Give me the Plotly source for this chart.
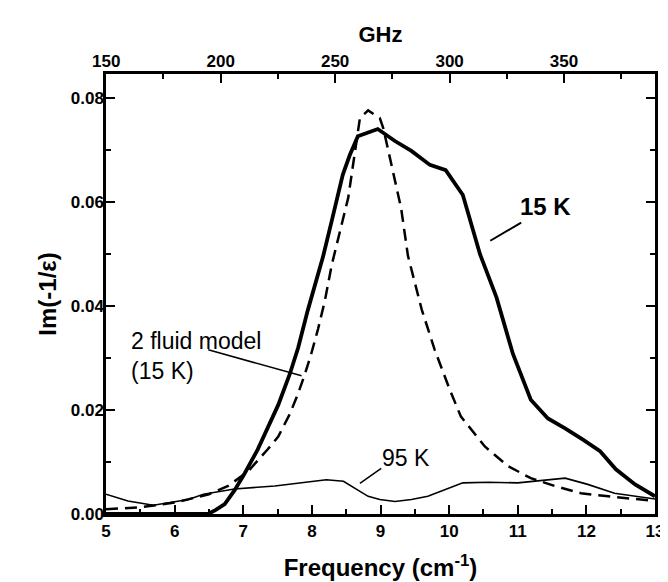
import plotly.graph_objects as go

# 15 K measured curve (thick)
f15 = [5.0, 5.5, 6.0, 6.49, 6.6, 6.73, 6.87, 7.02, 7.21, 7.36, 7.51, 7.68, 7.8, 7.94, 8.06, 8.16, 8.3, 8.45, 8.55, 8.67, 8.96, 9.06, 9.21, 9.45, 9.72, 9.95, 10.2, 10.45, 10.69, 10.93, 11.19, 11.44, 11.69, 11.95, 12.2, 12.43, 12.71, 13.0]
v15 = [0.0, 0.0, 0.0, 0.0, 0.0008, 0.0019, 0.0045, 0.0078, 0.0124, 0.0165, 0.0210, 0.0270, 0.0320, 0.0392, 0.0450, 0.0494, 0.0570, 0.0653, 0.0690, 0.0727, 0.0741, 0.0731, 0.0718, 0.0699, 0.0672, 0.0662, 0.0614, 0.0500, 0.0417, 0.0308, 0.0220, 0.0184, 0.0165, 0.0143, 0.0121, 0.0086, 0.0057, 0.0034]

# 2 fluid model (dashed)
fmod = [5.0, 5.5, 6.0, 6.5, 6.78, 7.07, 7.36, 7.51, 7.68, 7.8, 7.9, 7.99, 8.09, 8.19, 8.29, 8.4, 8.53, 8.62, 8.7, 8.82, 8.99, 9.04, 9.16, 9.3, 9.4, 9.6, 9.79, 10.01, 10.17, 10.52, 10.86, 11.19, 11.54, 11.92, 12.32, 12.71, 13.0]
vmod = [0.0009, 0.0013, 0.0022, 0.0038, 0.0054, 0.0082, 0.0125, 0.0149, 0.0193, 0.0232, 0.0270, 0.0308, 0.0356, 0.0411, 0.0480, 0.0540, 0.0609, 0.0690, 0.0762, 0.0777, 0.0762, 0.0743, 0.0672, 0.0589, 0.0497, 0.0394, 0.0316, 0.0239, 0.0188, 0.0130, 0.0092, 0.0069, 0.0054, 0.0040, 0.0034, 0.0029, 0.0025]

# 95 K measured curve (thin)
f95 = [5.0, 5.32, 5.69, 6.0, 6.2, 6.42, 6.87, 7.46, 7.84, 8.21, 8.46, 8.82, 8.99, 9.21, 9.45, 9.69, 10.2, 10.57, 11.0, 11.34, 11.69, 12.02, 12.41, 13.0]
v95 = [0.0038, 0.0025, 0.0017, 0.0023, 0.0028, 0.0038, 0.0048, 0.0054, 0.0060, 0.0066, 0.0063, 0.0034, 0.0028, 0.0024, 0.0028, 0.0034, 0.0060, 0.0061, 0.0060, 0.0065, 0.0069, 0.0057, 0.0040, 0.0029]

xticks = [5, 6, 7, 8, 9, 10, 11, 12, 13]
yticks = [0.0, 0.02, 0.04, 0.06, 0.08]
ghz_ticks = [150, 200, 250, 300, 350]
CM_TO_GHZ = 29.979

FONT = "Liberation Sans, Arial, sans-serif"

fig = go.Figure()
fig.add_trace(go.Scatter(x=f95, y=v95, mode="lines", line=dict(color="black", width=1.6), showlegend=False))
fig.add_trace(go.Scatter(x=fmod, y=vmod, mode="lines", line=dict(color="black", width=2.5, dash="12px,7px"), showlegend=False))
fig.add_trace(go.Scatter(x=f15, y=v15, mode="lines", line=dict(color="black", width=3.8), showlegend=False))
# invisible trace for top GHz axis
fig.add_trace(go.Scatter(x=[5 * CM_TO_GHZ, 13 * CM_TO_GHZ], y=[0, 0], xaxis="x2", mode="lines",
                         line=dict(width=0), hoverinfo="skip", showlegend=False))

tickfont = dict(family=FONT, size=17, color="black", weight="bold")

fig.update_layout(
    width=668, height=582,
    margin=dict(l=98, r=21, t=66, b=74),
    plot_bgcolor="white", paper_bgcolor="white",
    font=dict(family=FONT, color="black"),
    xaxis=dict(
        range=[5, 13], tickvals=xticks, ticktext=[str(t) for t in xticks],
        ticks="inside", ticklen=9, tickwidth=2, tickcolor="black",
        minor=dict(ticks="inside", ticklen=5, tickwidth=2, tickcolor="black", dtick=0.5, tick0=5),
        showline=True, linewidth=2.5, linecolor="black", mirror=False,
        showgrid=False, zeroline=False,
        tickfont=tickfont,
        title=dict(text="<b>Frequency (cm<sup>-1</sup>)</b>", font=dict(family=FONT, size=24), standoff=20),
    ),
    xaxis2=dict(
        overlaying="x", side="top", anchor="y",
        range=[5 * CM_TO_GHZ, 13 * CM_TO_GHZ], tickvals=ghz_ticks, ticktext=[str(t) for t in ghz_ticks],
        ticks="inside", ticklen=9, tickwidth=2, tickcolor="black",
        minor=dict(ticks="inside", ticklen=5, tickwidth=2, tickcolor="black", dtick=25, tick0=150),
        showline=True, linewidth=2.5, linecolor="black",
        showgrid=False, zeroline=False,
        tickfont=tickfont, ticklabelstandoff=-3,
        title=dict(text="<b>GHz</b>", font=dict(family=FONT, size=22), standoff=4),
    ),
    yaxis=dict(
        range=[0, 0.0847], tickvals=yticks, ticktext=["%.2f" % t for t in yticks],
        ticks="inside", ticklen=9, tickwidth=2, tickcolor="black",
        minor=dict(ticks="inside", ticklen=5, tickwidth=2, tickcolor="black", dtick=0.01, tick0=0),
        showline=True, linewidth=2.5, linecolor="black", mirror="ticks",
        showgrid=False, zeroline=False,
        tickfont=tickfont, ticklabelstandoff=-4,
        title=dict(text="<b>Im(-1/ε)</b>", font=dict(family=FONT, size=24), standoff=8),
    ),
)

# Labels with leader lines
fig.add_annotation(x=11.41, y=0.0592, xref="x", yref="y", text="<b>15 K</b>", showarrow=False,
                   font=dict(family=FONT, size=24, color="black"))
fig.add_shape(type="line", xref="x", yref="y", x0=11.05, y0=0.0561, x1=10.6, y1=0.0526,
              line=dict(color="black", width=2))

fig.add_annotation(x=9.37, y=0.0108, xref="x", yref="y", text="95 K", showarrow=False,
                   font=dict(family=FONT, size=23, color="black"))
fig.add_shape(type="line", xref="x", yref="y", x0=9.01, y0=0.0088, x1=8.70, y1=0.0059,
              line=dict(color="black", width=1.5))

fig.add_annotation(x=5.33, y=0.0305, xref="x", yref="y", text="2 fluid model<br>(15 K)", showarrow=False,
                   xanchor="left", align="left", font=dict(family=FONT, size=23, color="black"))
fig.add_shape(type="line", xref="x", yref="y", x0=6.49, y0=0.0316, x1=7.85, y1=0.0266,
              line=dict(color="black", width=1.5))

fig.write_html("out.html")
